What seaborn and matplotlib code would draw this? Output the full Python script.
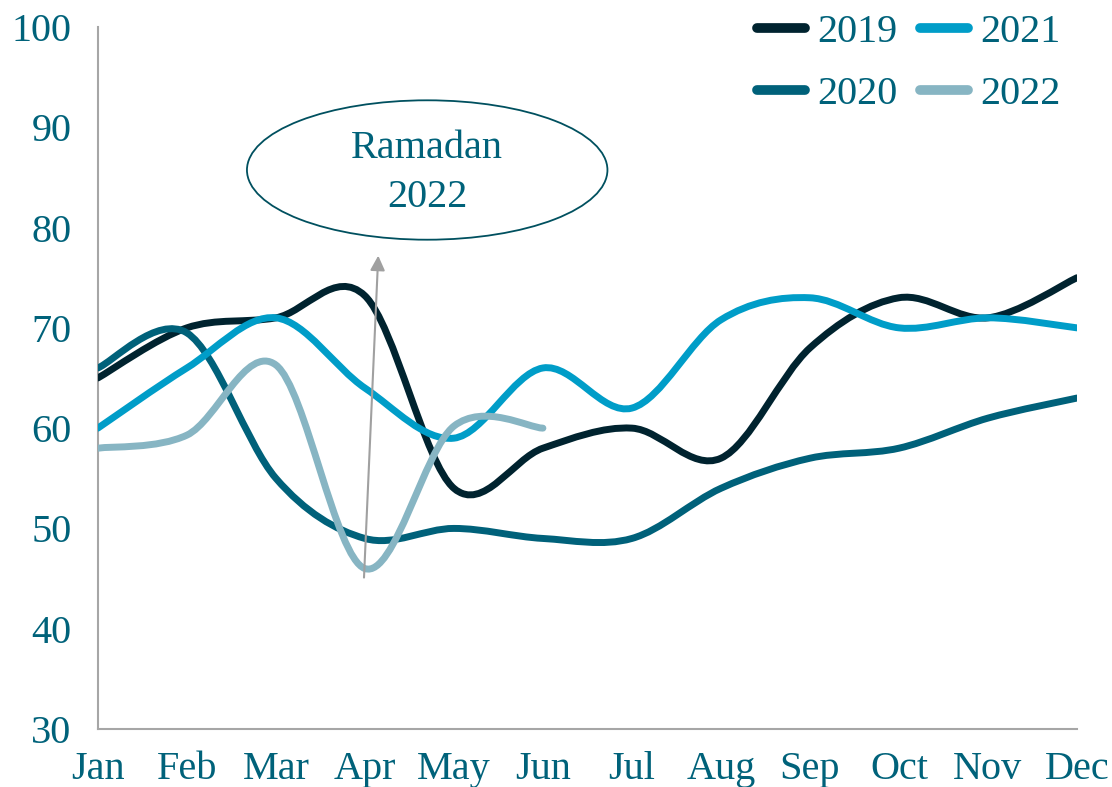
import numpy as np
import matplotlib.pyplot as plt
import seaborn as sns
from matplotlib.path import Path
from matplotlib.patches import PathPatch, Ellipse
from matplotlib.lines import Line2D

months = ["Jan", "Feb", "Mar", "Apr", "May", "Jun",
          "Jul", "Aug", "Sep", "Oct", "Nov", "Dec"]
v2019 = [65, 70, 71, 73.2, 54, 58, 60, 57, 68, 73, 71, 75]
v2020 = [66, 69.5, 55, 49, 50, 49, 49, 54, 57, 58, 61, 63]
v2021 = [60, 66, 71, 64, 59, 66, 62, 70.8, 73, 70, 71, 70]
v2022 = [58, 59.3, 66.3, 46, 60.2, 60]

series = {"2019": v2019, "2020": v2020, "2021": v2021, "2022": v2022}
colors = {"2019": "#00232f", "2020": "#00617a", "2021": "#009dc8", "2022": "#87b5c3"}
text_color = "#00627a"

sns.set_theme(style="white")
plt.rcParams["font.family"] = ["Liberation Serif", "DejaVu Serif"]


def smooth_path(ys):
    # Excel-like smoothed line: cubic bezier segments, Catmull-Rom control points
    pts = np.column_stack([np.arange(len(ys)), ys]).astype(float)
    verts = [pts[0]]
    codes = [Path.MOVETO]
    n = len(pts)
    for i in range(n - 1):
        p0 = pts[i - 1] if i > 0 else pts[i]
        p1 = pts[i]
        p2 = pts[i + 1]
        p3 = pts[i + 2] if i + 2 < n else pts[i + 1]
        c1 = p1 + (p2 - p0) / 6
        c2 = p2 - (p3 - p1) / 6
        verts += [c1, c2, p2]
        codes += [Path.CURVE4] * 3
    return Path(verts, codes)


fig, ax = plt.subplots(figsize=(11.12, 7.87), dpi=100)
fig.subplots_adjust(left=0.088, right=0.9685, top=0.9657, bottom=0.0737)

for name, ys in series.items():
    patch = PathPatch(smooth_path(ys), facecolor="none", edgecolor=colors[name],
                      lw=5, capstyle="round", joinstyle="round", zorder=3)
    ax.add_patch(patch)

ax.set_xlim(0, 11)
ax.set_ylim(30, 100)
ax.set_xticks(range(12))
ax.set_xticklabels(months)
ax.set_yticks(range(30, 101, 10))
ax.tick_params(axis="both", length=0, labelsize=29, colors=text_color)
ax.tick_params(axis="x", pad=16)
ax.tick_params(axis="y", pad=19)
for side in ["top", "right"]:
    ax.spines[side].set_visible(False)
for side in ["left", "bottom"]:
    ax.spines[side].set_color("#a6a6a6")
    ax.spines[side].set_linewidth(1.5)

# Ramadan annotation
ax.add_patch(Ellipse((3.70, 85.74), 4.05, 13.9, facecolor="none",
                     edgecolor="#00505f", lw=1.3, zorder=4))
ax.text(3.70, 85.45, "Ramadan\n2022", ha="center", va="center",
        fontsize=29, color=text_color, linespacing=1.4, zorder=5)
ax.annotate("", xy=(3.15, 77.2), xytext=(2.99, 45.1),
            arrowprops=dict(arrowstyle="-|>", color="#a0a0a0", lw=1.5,
                            mutation_scale=22, shrinkA=0, shrinkB=0), zorder=4)

handles = [Line2D([], [], color=colors[k], lw=7, solid_capstyle="round")
           for k in series]
leg = ax.legend(handles, list(series.keys()), ncol=2, loc="upper right",
                bbox_to_anchor=(1.02, 1.07), frameon=False, fontsize=29,
                handlelength=1.2, handletextpad=0.3, columnspacing=0.55,
                labelspacing=0.6)
for t in leg.get_texts():
    t.set_color(text_color)

fig.savefig("out.png", dpi=100)
